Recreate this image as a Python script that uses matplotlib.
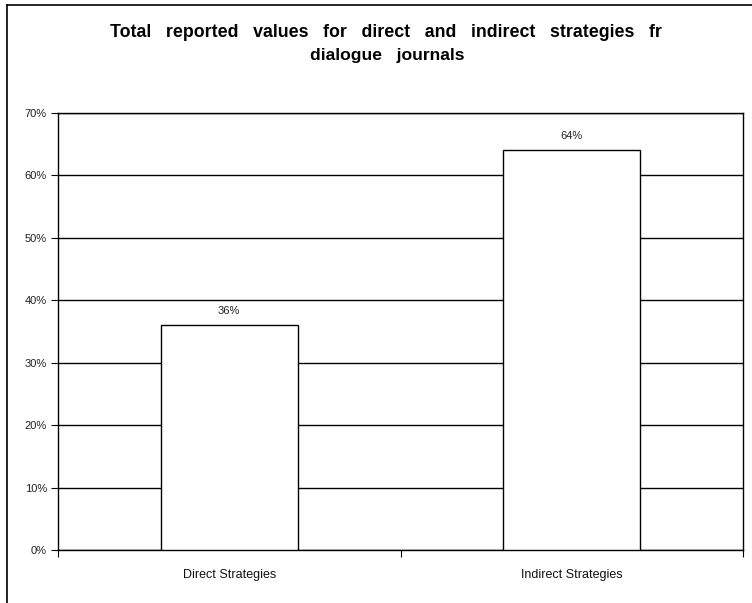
import matplotlib
matplotlib.use("Agg")
import matplotlib.pyplot as plt
from matplotlib.lines import Line2D
from matplotlib.patches import Rectangle

categories = ["Direct Strategies", "Indirect Strategies"]
values = [36, 64]
bar_labels = ["36%", "64%"]
yticks = [0, 10, 20, 30, 40, 50, 60, 70]
ytick_labels = ["0%", "10%", "20%", "30%", "40%", "50%", "60%", "70%"]

plt.rcParams['font.family'] = ['Liberation Sans', 'DejaVu Sans']

fig = plt.figure(figsize=(7.52, 6.03), dpi=100)
fig.patch.set_facecolor('white')
W, H = 752, 603
ax = fig.add_axes([58 / W, 1 - 550 / H, (743 - 58) / W, (550 - 113) / H])

x = list(range(len(categories)))
ax.bar(x, values, width=0.40, color='white', edgecolor='black', linewidth=1, zorder=3)
for xi, v, lab in zip(x, values, bar_labels):
    ax.text(xi, v + 1.5, lab, ha='center', va='bottom', fontsize=8, color='#222222', zorder=4)

ax.set_xlim(-0.5, len(categories) - 0.5)
ax.set_ylim(0, 70)
ax.set_yticks(yticks)
ax.set_yticklabels(ytick_labels, fontsize=8, color='#222222')
ax.yaxis.grid(True, color='black', linewidth=1)
ax.set_axisbelow(True)
ax.set_xticks(x)
ax.set_xticklabels(categories, fontsize=9, color='#111111')
ax.tick_params(axis='x', which='major', length=0, pad=14)
ax.set_xticks([-0.5, 0.5, 1.5], minor=True)
ax.tick_params(axis='x', which='minor', length=5, direction='out', width=0.8)
ax.tick_params(axis='y', length=5, direction='out', width=0.8, pad=3)
for s in ax.spines.values():
    s.set_color('black')
    s.set_linewidth(1)

title1 = "Total   reported   values   for   direct   and   indirect   strategies   from   the"
title2 = "dialogue   journals"
fig.text(110 / W, 1 - 37 / H, title1, ha='left', va='baseline', fontsize=12.75, fontweight='bold', zorder=3)
fig.text(387 / W, 1 - 60 / H, title2, ha='center', va='baseline', fontsize=12.6, fontweight='bold', zorder=3)
# title area is cut off at the right
fig.add_artist(Rectangle((662 / W, 1 - 75 / H), 1 - 662 / W, 68 / H, transform=fig.transFigure,
                         facecolor='white', edgecolor='none', zorder=5))

# figure border (left and top visible)
fig.add_artist(Line2D([6.5 / W, 6.5 / W], [0, 1 - 5 / H], transform=fig.transFigure, color='black', lw=1.2, zorder=6))
fig.add_artist(Line2D([6.5 / W, 1], [1 - 5 / H, 1 - 5 / H], transform=fig.transFigure, color='black', lw=1.2, zorder=6))

fig.savefig("out.png", dpi=100, facecolor='white')
